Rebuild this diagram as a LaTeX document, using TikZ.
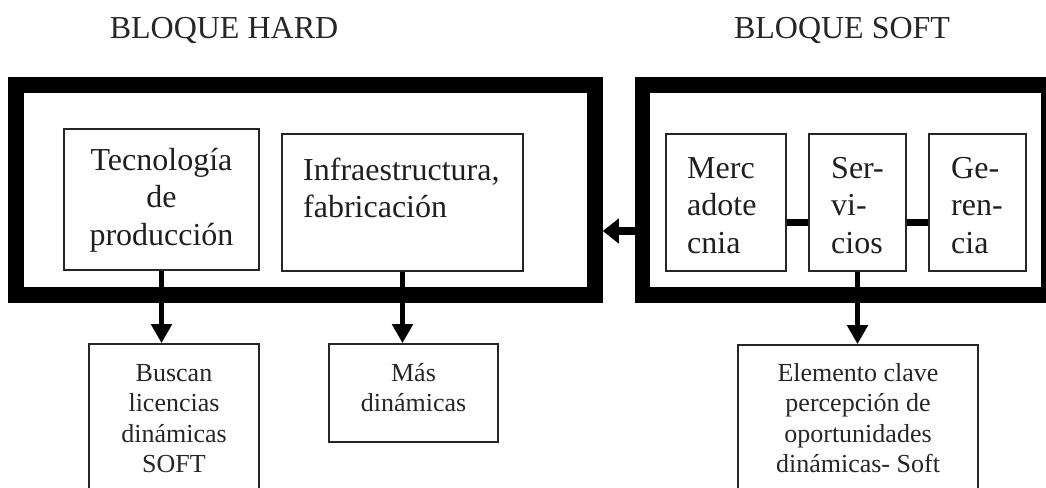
\documentclass[tikz,border=0pt]{standalone}
\usepackage{fontspec}
\setmainfont{Liberation Serif}
\usetikzlibrary{arrows.meta}

\tikzset{
  block/.style={draw=black, line width=15.5pt, inner sep=0pt},
  part/.style={draw=black!85, line width=1.6pt, inner sep=0pt},
  bigtext/.style={inner sep=0pt, font=\fontsize{32}{37.5}\selectfont, text=black!88},
  smalltext/.style={inner sep=0pt, font=\fontsize{26}{30.5}\selectfont, text=black!85},
  title/.style={inner sep=0pt, font=\fontsize{32}{38}\selectfont, text=black!85},
  link/.style={line width=7pt},
  feed/.style={line width=8pt, -{Triangle[length=16pt,width=24pt]}},
  down/.style={line width=5pt, -{Triangle[length=19pt,width=20pt]}}
}

\begin{document}
\begin{tikzpicture}[x=1pt,y=-1pt]
\useasboundingbox (0,0) rectangle (1046,487);
\clip (0,0) rectangle (1046,487);

% headings
\node[title, anchor=base] (thard) at (224,38) {BLOQUE HARD};
\node[title, anchor=base] (tsoft) at (842,38) {BLOQUE SOFT};

% the two blocks
\node[block, minimum width=579pt, minimum height=210pt] (hard) at (305.5,190) {};
\node[block, minimum width=406.5pt, minimum height=210pt] (soft) at (845.75,190) {};

% components of the hard block (text anchored at the baseline of its last line)
\node[part, minimum width=195pt, minimum height=141pt] (tec) at (161.5,199.5) {};
\node[part, minimum width=241pt, minimum height=137pt] (inf) at (402.5,202.5) {};
\node[bigtext, anchor=base, align=center] (tectxt) at (161.5,245)
  {Tecnología\\de\\producción};
\node[bigtext, anchor=base west, align=left] (inftxt) at (303,217.5)
  {Infraestructura,\\fabricación};

% components of the soft block
\node[part, minimum width=120pt, minimum height=137pt] (mer) at (726,202.5) {};
\node[part, minimum width=97pt, minimum height=137pt] (ser) at (857.5,202.5) {};
\node[part, minimum width=97pt, minimum height=137pt] (ger) at (977.5,202.5) {};
\node[bigtext, anchor=base west, align=left] (mertxt) at (687,253) {Merc\\adote\\cnia};
\node[bigtext, anchor=base west, align=left] (sertxt) at (831,253) {Ser-\\vi-\\cios};
\node[bigtext, anchor=base west, align=left] (gertxt) at (951,253) {Ge-\\ren-\\cia};

\draw[link] (mer.east |- 0,222) -- (ser.west |- 0,222);
\draw[link] (ser.east |- 0,222) -- (ger.west |- 0,222);

% outcome boxes
\node[part, minimum width=170pt, minimum height=166pt] (bus) at (174,427) {};
\node[part, minimum width=169pt, minimum height=98pt] (mas) at (413.5,393) {};
\node[part, minimum width=240pt, minimum height=165pt] (ele) at (858,427.5) {};
\node[smalltext, anchor=base, align=center] (bustxt) at (174,472.5)
  {Buscan\\licencias\\dinámicas\\SOFT};
\node[smalltext, anchor=base, align=center] (mastxt) at (413.5,411.5)
  {Más\\dinámicas};
\node[smalltext, anchor=base, align=center] (eletxt) at (858,472.5)
  {Elemento clave\\percepción de\\oportunidades\\dinámicas- Soft};

% arrows
\draw[feed] (soft.west |- 0,231) -- (hard.east |- 0,231);
\draw[down] (tec.south) -- (tec.south |- bus.north);
\draw[down] (inf.south) -- (inf.south |- mas.north);
\draw[down] (ser.south) -- (ser.south |- ele.north);
\end{tikzpicture}
\end{document}
